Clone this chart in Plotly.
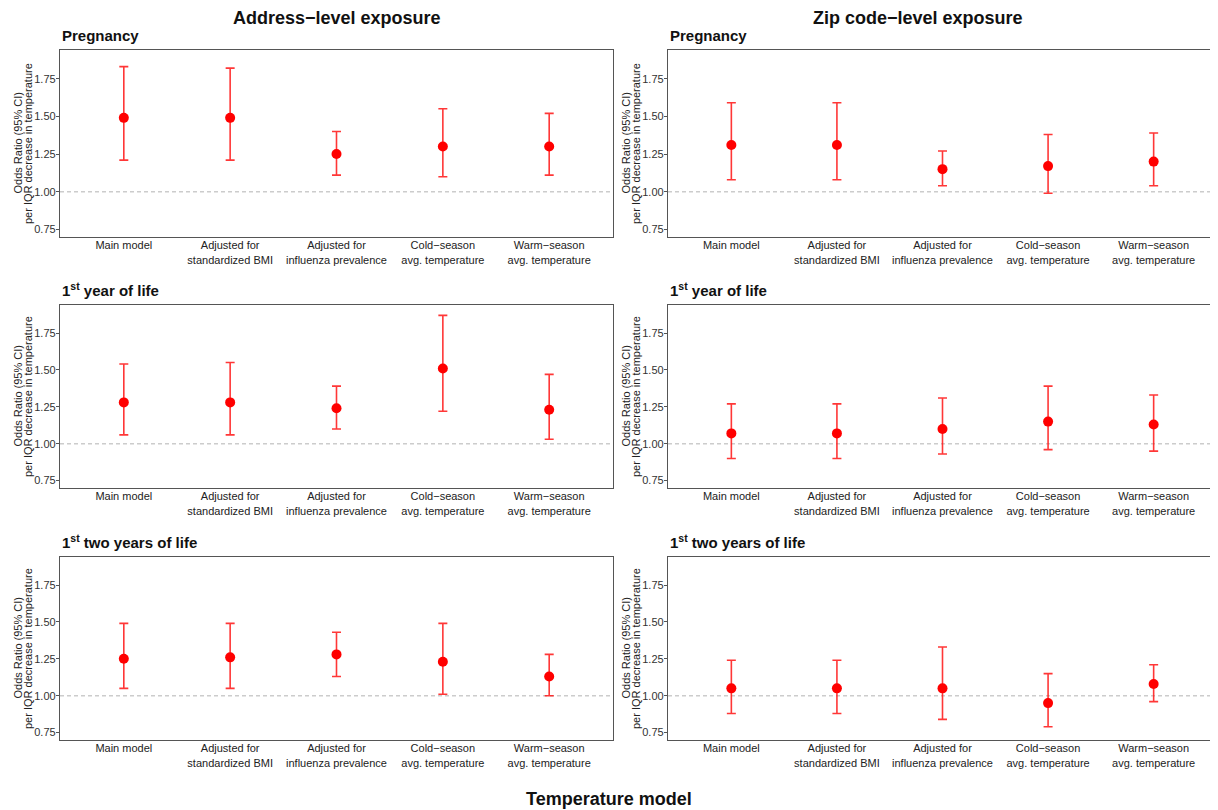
import plotly.graph_objects as go

categories = ["Main model", "Adjusted for<br>standardized BMI", "Adjusted for<br>influenza prevalence",
              "Cold\u2212season<br>avg. temperature", "Warm\u2212season<br>avg. temperature"]
col_titles = ["Address\u2212level exposure", "Zip code\u2212level exposure"]
row_titles = ["Pregnancy", "1<sup>st</sup> year of life", "1<sup>st</sup> two years of life"]
y_title_lines = ["Odds Ratio (95% CI)", "per IQR decrease in temperature"]
x_title = "Temperature model"
y_ticks = [0.75, 1.00, 1.25, 1.50, 1.75]
y_ticktext = ["0.75", "1.00", "1.25", "1.50", "1.75"]

# Address-level
addr_preg_or = [1.49, 1.49, 1.25, 1.30, 1.30]
addr_preg_lo = [1.21, 1.21, 1.11, 1.10, 1.11]
addr_preg_hi = [1.83, 1.82, 1.40, 1.55, 1.52]
addr_y1_or = [1.28, 1.28, 1.24, 1.51, 1.23]
addr_y1_lo = [1.06, 1.06, 1.10, 1.22, 1.03]
addr_y1_hi = [1.54, 1.55, 1.39, 1.87, 1.47]
addr_y2_or = [1.25, 1.26, 1.28, 1.23, 1.13]
addr_y2_lo = [1.05, 1.05, 1.13, 1.01, 1.00]
addr_y2_hi = [1.49, 1.49, 1.43, 1.49, 1.28]
# Zip code-level
zip_preg_or = [1.31, 1.31, 1.15, 1.17, 1.20]
zip_preg_lo = [1.08, 1.08, 1.04, 0.99, 1.04]
zip_preg_hi = [1.59, 1.59, 1.27, 1.38, 1.39]
zip_y1_or = [1.07, 1.07, 1.10, 1.15, 1.13]
zip_y1_lo = [0.90, 0.90, 0.93, 0.96, 0.95]
zip_y1_hi = [1.27, 1.27, 1.31, 1.39, 1.33]
zip_y2_or = [1.05, 1.05, 1.05, 0.95, 1.08]
zip_y2_lo = [0.88, 0.88, 0.84, 0.79, 0.96]
zip_y2_hi = [1.24, 1.24, 1.33, 1.15, 1.21]

panels = [
    [(addr_preg_or, addr_preg_lo, addr_preg_hi), (zip_preg_or, zip_preg_lo, zip_preg_hi)],
    [(addr_y1_or, addr_y1_lo, addr_y1_hi), (zip_y1_or, zip_y1_lo, zip_y1_hi)],
    [(addr_y2_or, addr_y2_lo, addr_y2_hi), (zip_y2_or, zip_y2_lo, zip_y2_hi)],
]

OFF = 8  # default page body margin
W, H = 1218 - OFF, 810 - OFF
col_px = [(60, 613), (668, 1217)]
row_px = [(50, 237), (305, 488), (557, 740)]


def px(s):
    return (s - OFF) / W


def py(s):
    return 1 - (s - OFF) / H


fig = go.Figure()
layout = dict(width=W, height=H, margin=dict(l=0, r=0, t=0, b=0),
              paper_bgcolor="white", plot_bgcolor="white", showlegend=False,
              font=dict(family="Liberation Sans, Arial, sans-serif", color="#333333"))
annotations = []
shapes = []
xpos = list(range(len(categories)))
idx = 0
for r in range(3):
    for c in range(2):
        idx += 1
        ax = "" if idx == 1 else str(idx)
        orv, lo, hi = panels[r][c]
        plus = [h - o for h, o in zip(hi, orv)]
        minus = [o - l for o, l in zip(orv, lo)]
        fig.add_trace(go.Scatter(
            x=xpos, y=orv, mode="markers", xaxis="x" + ax, yaxis="y" + ax,
            marker=dict(color="#ff0000", size=10),
            error_y=dict(type="data", array=plus, arrayminus=minus, symmetric=False,
                         color="rgba(255,20,20,0.85)", thickness=1.6, width=4.5),
            hoverinfo="skip"))
        x0, x1 = col_px[c]
        y0, y1 = row_px[r]
        layout["xaxis" + ax] = dict(
            domain=[px(x0), min(px(x1), 1.0)], anchor="y" + ax, range=[-0.6, 4.6],
            tickvals=xpos, ticktext=categories, showgrid=False, zeroline=False,
            showline=True, mirror=True, linecolor="#555555", linewidth=1.3,
            ticks="", ticklabelstandoff=-2, tickfont=dict(size=11, color="#222222"))
        layout["yaxis" + ax] = dict(
            domain=[py(y1), py(y0)], anchor="x" + ax, range=[0.70, 1.94],
            tickvals=y_ticks, ticktext=y_ticktext, showgrid=False, zeroline=False,
            showline=True, mirror=True, linecolor="#555555", linewidth=1.3,
            ticks="outside", ticklen=3, tickcolor="#555555", ticklabelstandoff=-2,
            tickfont=dict(size=11, color="#333333"))
        shapes.append(dict(type="line", xref="x" + ax + " domain", yref="y" + ax,
                           x0=0, x1=1, y0=1, y1=1, layer="below",
                           line=dict(color="#cccccc", width=1.3, dash="4px,3px")))
        # panel title
        annotations.append(dict(text="<b>" + row_titles[r] + "</b>", x=px(x0), y=py(y0 - 4),
                                xref="paper", yref="paper", xanchor="left", yanchor="bottom",
                                showarrow=False, font=dict(size=15, color="#111111")))
        # y-axis title (two lines placed separately for tight line spacing)
        for k, line in enumerate(y_title_lines):
            annotations.append(dict(text=line, x=px(x0 - 43 + 10.5 * k), y=py((y0 + y1) / 2),
                                    xref="paper", yref="paper", xanchor="center", yanchor="middle",
                                    textangle=-90, showarrow=False,
                                    font=dict(size=11, color="#222222")))

for c in range(2):
    cx = 337 if c == 0 else 918
    annotations.append(dict(text="<b>" + col_titles[c] + "</b>", x=px(cx), y=py(18),
                            xref="paper", yref="paper", xanchor="center", yanchor="middle",
                            showarrow=False, font=dict(size=18, color="#111111")))
annotations.append(dict(text="<b>" + x_title + "</b>", x=px(609), y=py(799),
                        xref="paper", yref="paper", xanchor="center", yanchor="middle",
                        showarrow=False, font=dict(size=18, color="#111111")))

layout["annotations"] = annotations
layout["shapes"] = shapes
fig.update_layout(**layout)
fig.write_html("out.html")
